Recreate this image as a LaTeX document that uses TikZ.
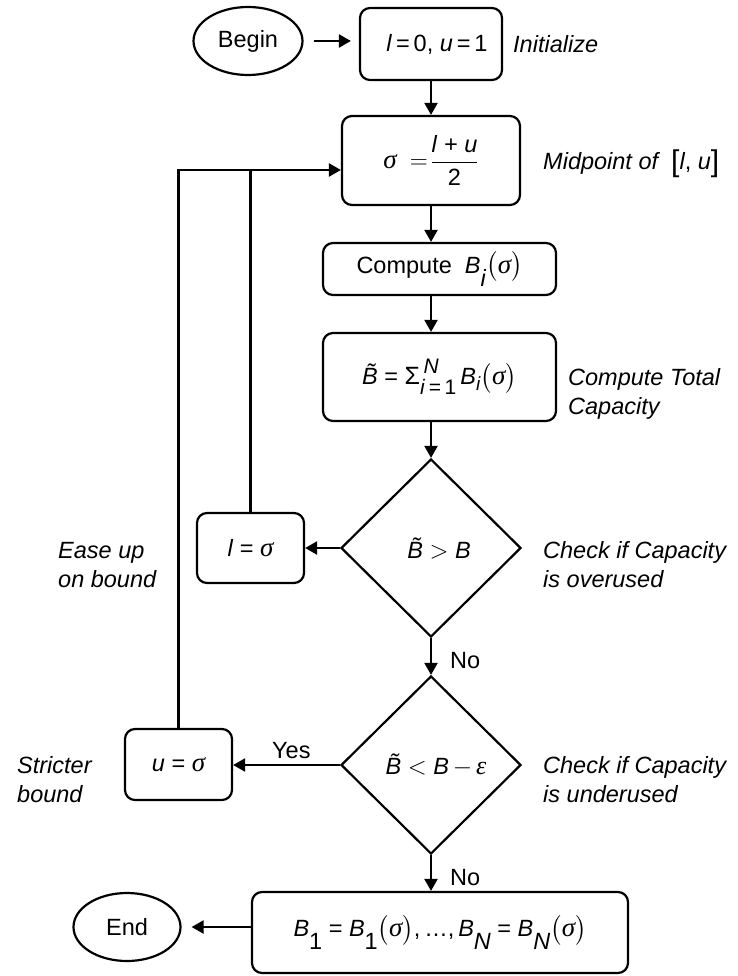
\documentclass[tikz,border=0pt]{standalone}
\usepackage{amsmath}
\usepackage{fontspec}
\setmainfont{Liberation Sans}
\newfontfamily\serifgr{Liberation Serif}
\usetikzlibrary{shapes.geometric,arrows.meta}
\newcommand\vB{\textit{B}}
\newcommand\tB{\textit{B^^^^0303}}
\newcommand\lowsub[1]{\raisebox{-0.55em}{#1}}
\newcommand\sig{{\serifgr\itshape\fontsize{27}{28}\selectfont σ}}
\newcommand\eps{{\serifgr\itshape\fontsize{26}{28}\selectfont ε}}
\newcommand\psig{$\bigl($\sig$\bigr)$}
\begin{document}
\begin{tikzpicture}[x=1pt,y=-1pt,
  base/.style={font=\fontsize{23.5}{28}\selectfont},
  proc/.style={base,draw,line width=2.2pt,rounded corners=10pt,inner sep=0pt},
  term/.style={base,draw,line width=2.2pt,ellipse,inner sep=0pt},
  decis/.style={base,draw,line width=2.2pt,diamond,inner sep=0pt,minimum width=180pt,minimum height=178pt},
  note/.style={font=\fontsize{23.5}{28}\selectfont\itshape,anchor=base west,inner sep=0pt},
  plain/.style={font=\fontsize{23.5}{28}\selectfont,anchor=base west,inner sep=0pt},
  conn/.style={line width=2.2pt,-{Triangle[length=12pt,width=13pt]}},
  wire/.style={line width=2.2pt}]
\useasboundingbox (0,0) rectangle (738,976);

% nodes
\node[term,minimum width=109pt,minimum height=68pt] (begin) at (248,41) {Begin};
\node[proc,minimum width=142pt,minimum height=72pt] (init) at (431,44)
  {\hspace{12pt}\textit{l}\,=\,0,\ \textit{u}\,=\,1};
\node[proc,minimum width=178pt,minimum height=89pt] (sigma) at (431,160.5)
  {\sig\ \ $=\!\dfrac{\text{\itshape l\/ + u}}{\text{2}}$\hspace{8pt}};
\node[proc,minimum width=233pt,minimum height=52pt] (compute) at (439.5,269)
  {Compute\ \ \vB\lowsub{\textit{i}}\psig\hspace{14pt}};
\node[proc,minimum width=233pt,minimum height=88pt] (total) at (439.5,377)
  {\tB\ = \fontsize{25}{28}\selectfont Σ\rlap{\raisebox{0.45em}{\fontsize{21}{22}\selectfont\,\textit{N}}}\raisebox{-0.4em}{\fontsize{21}{22}\selectfont\textit{i}\,=\,1}\,\fontsize{23.5}{28}\selectfont\vB\raisebox{-0.25em}{\fontsize{19}{20}\selectfont\textit{i}}\psig\hspace{10pt}};
\node[decis] (d1) at (431,548) {\hspace{16pt}\tB\ $>$\ \vB};
\node[proc,minimum width=107pt,minimum height=70pt] (lsig) at (250.5,548) {\textit{l} = \sig};
\node[decis] (d2) at (431,765) {\hspace{10pt}\tB\ $<$\ \vB\,$-$\,\eps};
\node[proc,minimum width=107pt,minimum height=71pt] (usig) at (178.5,764.5) {\textit{u} = \sig};
\node[proc,minimum width=376pt,minimum height=81pt] (endbox) at (440,932.5)
  {\vB\lowsub{1}\ =\ \vB\lowsub{1}\psig,\,\dots,\,\vB\lowsub{\textit{N}}\ =\ \vB\lowsub{\textit{N}}\psig};
\node[term,minimum width=107pt,minimum height=68pt] (endell) at (127,927) {End};

% annotations
\node[note] (ninit) at (513,52.5) {Initialize};
\node[note] (nmid) at (543,170) {Midpoint of\ \ \upshape\raisebox{-2pt}{\fontsize{30}{30}\selectfont[}\textit{l}, \textit{u}\raisebox{-2pt}{\fontsize{30}{30}\selectfont]}};
\node[note] (ntot1) at (568,385.5) {Compute Total};
\node[note] (ntot2) at (568,414.5) {Capacity};
\node[note] (nover1) at (543,558.5) {Check if Capacity};
\node[note] (nover2) at (543,587.5) {is overused};
\node[note] (nease1) at (58,558.5) {Ease up};
\node[note] (nease2) at (58,587.5) {on bound};
\node[note] (nund1) at (543,773.5) {Check if Capacity};
\node[note] (nund2) at (543,802.5) {is underused};
\node[note] (nstr1) at (17,773.5) {Stricter};
\node[note] (nstr2) at (17,802.5) {bound};
\node[plain] (yes) at (272,758) {Yes};
\node[plain] (no1) at (450,668) {No};
\node[plain] (no2) at (450,885) {No};

% connectors
\coordinate (loopy) at (0,170);
\draw[conn,shorten <=10pt,shorten >=8pt] (begin.east) -- (init.west |- begin.east);
\draw[conn] (init.south) -- (sigma.north);
\draw[conn] (sigma.south) -- (sigma.south |- compute.north);
\draw[conn] (sigma.south |- compute.south) -- (sigma.south |- total.north);
\draw[conn] (sigma.south |- total.south) -- (d1.north);
\draw[conn] (d1.south) -- (d2.north);
\draw[conn] (d2.south) -- (d2.south |- endbox.north);
\draw[conn] (d1.west) -- (lsig.east);
\draw[conn] (d2.west) -- (usig.east |- d2.west);
\draw[conn,shorten >=10pt] (endbox.west |- endell.east) -- (endell.east);
\draw[wire] (lsig.north) -- (lsig.north |- loopy);
\draw[conn] (usig.north) |- (sigma.west |- loopy);
\end{tikzpicture}
\end{document}
